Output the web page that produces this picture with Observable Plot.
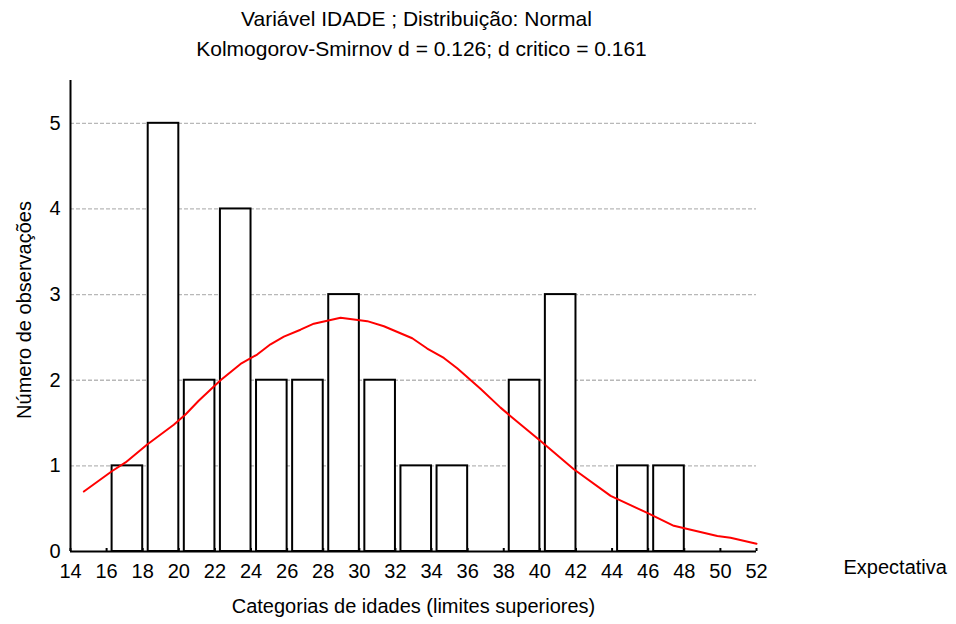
<!DOCTYPE html>
<html>
<head>
<meta charset="utf-8">
<script src="https://cdn.jsdelivr.net/npm/d3@7"></script>
<script src="https://cdn.jsdelivr.net/npm/@observablehq/plot@0.6"></script>
<style>
  html, body { margin: 0; padding: 0; background: #fff; }
  #chart svg { display: block; }
</style>
</head>
<body>
<div id="chart"></div>
<script>
// Category upper limits and observed counts
const upperLimits = [18, 20, 22, 24, 26, 28, 30, 32, 34, 36, 38, 40, 42, 44, 46, 48, 50, 52];
const counts      = [ 1,  5,  2,  4,  2,  2,  3,  2,  1,  1,  0,  2,  3,  0,  1,  1,  0,  0];

// Expected (normal) curve
const curveX = [14.74, 16.31, 17.05, 18.25, 19.72, 20.37, 21.1, 22.31, 23.42, 24.34, 25.08, 25.82, 26.74, 27.48, 28.96, 30.44, 31.36, 32.93, 33.76, 34.68, 35.42, 36.71, 37.82, 38.38, 40.04, 41.88, 43.92, 45.95, 47.42, 49.83, 50.56, 52.0];
const curveY = [0.70, 0.94, 1.04, 1.25, 1.48, 1.60, 1.76, 2.00, 2.19, 2.30, 2.42, 2.51, 2.59, 2.66, 2.73, 2.69, 2.63, 2.49, 2.37, 2.26, 2.14, 1.90, 1.68, 1.58, 1.29, 0.96, 0.65, 0.45, 0.30, 0.18, 0.16, 0.09];

const xTicks = [14, 16, 18, 20, 22, 24, 26, 28, 30, 32, 34, 36, 38, 40, 42, 44, 46, 48, 50, 52];
const yTicks = [0, 1, 2, 3, 4, 5];
const gridTicks = [1, 2, 3, 4, 5];

const title1 = "Variável IDADE ; Distribuição: Normal";
const title2 = "Kolmogorov-Smirnov d = 0.126; d critico = 0.161";
const xLabel = "Categorias de idades (limites superiores)";
const yLabel = "Número de observações";
const legendLabel = "Expectativa";
const binWidth = 2;

const bars = upperLimits.map((u, i) => ({upper: u, lower: u - binWidth, count: counts[i]})).filter(d => d.count > 0);
const curve = curveX.map((x, i) => ({x, y: curveY[i]}));

const font = "Liberation Sans, Arial, Helvetica, sans-serif";
const fs = 20;
const fsTitle = 21;

const chart = Plot.plot({
  width: 956,
  height: 624,
  marginLeft: 70,
  marginRight: 200,
  marginTop: 80,
  marginBottom: 73,
  style: {fontFamily: font, fontSize: fs + "px", color: "#000", background: "#fff"},
  x: {domain: [14, 52]},
  y: {domain: [0, 5.5]},
  marks: [
    Plot.gridY(gridTicks, {stroke: "#b8b8b8", strokeOpacity: 1, strokeWidth: 1.3, strokeDasharray: "4,2"}),
    Plot.axisX(xTicks, {tickSize: 0, tickPadding: 12, fontSize: fs, label: null, tickFormat: d => String(d), fill: "black"}),
    Plot.axisX(xTicks, {tickSize: -3, fill: "none", label: null, strokeWidth: 2}),
    Plot.axisY(yTicks, {tickSize: 0, tickPadding: 10, fontSize: fs, label: null, tickFormat: d => String(d), fill: "black"}),
    Plot.rectY(bars, {x1: "lower", x2: "upper", y: "count", fill: "white", stroke: "black", strokeWidth: 2, insetLeft: 5.5}),
    Plot.line(curve, {x: "x", y: "y", stroke: "#ff0000", strokeWidth: 2}),
    Plot.ruleX([14], {stroke: "black", strokeWidth: 2}),
    Plot.ruleY([0], {stroke: "black", strokeWidth: 2}),
    Plot.text([title1], {frameAnchor: "top", dx: 3, dy: -69, fontSize: fsTitle, fill: "black"}),
    Plot.text([title2], {frameAnchor: "top", dx: 8, dy: -39, fontSize: fsTitle, fill: "black"}),
    Plot.text([xLabel], {frameAnchor: "bottom", dy: 61, fontSize: fs, fill: "black"}),
    Plot.text([yLabel], {frameAnchor: "left", dx: -46, dy: -6, rotate: -90, textAnchor: "middle", fontSize: fs, fill: "black"}),
    Plot.text([legendLabel], {frameAnchor: "bottom-right", dx: 87, dy: 22, textAnchor: "start", fontSize: fs, fill: "black"})
  ]
});
document.getElementById("chart").appendChild(chart);
</script>
</body>
</html>
